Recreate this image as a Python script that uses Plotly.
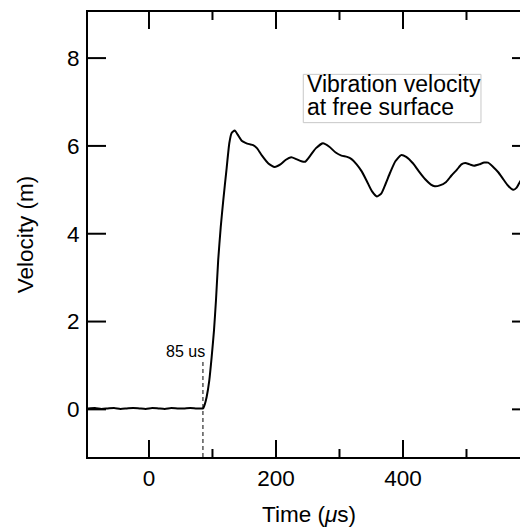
import plotly.graph_objects as go

time_us = [-96, -85, -75, -65, -55, -45, -35, -25, -15, -5, 5, 15, 25, 35, 45, 55, 65, 75, 82, 85,
           88, 90.8, 95, 98.7, 102.4, 105.5, 109, 113, 117, 122, 126.5, 130, 135, 140, 146, 152,
           158, 164, 170, 178, 188, 198, 207, 215, 224, 232, 240, 246, 254, 263, 274, 284, 294,
           303, 312, 319, 327, 335, 343, 351, 359, 366, 373, 380, 388, 397, 405, 416, 425, 435,
           444, 450, 458, 468, 476, 485, 492, 498, 505, 512, 520, 528, 534, 542, 550, 557, 564,
           570, 574, 579, 584, 590, 598]
velocity = [0.02, 0.03, 0.01, 0.02, 0.03, 0.01, 0.02, 0.03, 0.02, 0.01, 0.03, 0.02, 0.01, 0.03, 0.02, 0.02, 0.03, 0.02, 0.02, 0.02,
            0.12, 0.28, 0.66, 1.19, 1.80, 2.48, 3.40, 4.15, 4.76, 5.45, 6.06, 6.29, 6.35, 6.25, 6.12, 6.07,
            6.04, 6.02, 5.95, 5.78, 5.60, 5.52, 5.58, 5.68, 5.74, 5.70, 5.65, 5.64, 5.78, 5.95, 6.06, 5.98, 5.85,
            5.78, 5.75, 5.70, 5.58, 5.42, 5.20, 4.97, 4.85, 4.92, 5.15, 5.40, 5.65, 5.79, 5.75, 5.60, 5.42, 5.24,
            5.12, 5.08, 5.10, 5.18, 5.32, 5.46, 5.58, 5.61, 5.58, 5.55, 5.58, 5.62, 5.62, 5.52, 5.40, 5.26, 5.12,
            5.03, 5.00, 5.05, 5.18, 5.30, 5.45]

onset_time = [85]
onset_label = ["85 us"]
x_ticks = [0, 200, 400]
x_minor_ticks = [100, 300, 500]
y_ticks = [0, 2, 4, 6, 8]

FONT = "Liberation Sans, Arial, Helvetica, sans-serif"

X_RANGE = [-96, 600]
Y_RANGE = [-1.085, 9.05]
PLOT_W, PLOT_H = 442, 445          # plot-area size in pixels
x_per_px = (X_RANGE[1] - X_RANGE[0]) / PLOT_W
y_per_px = (Y_RANGE[1] - Y_RANGE[0]) / PLOT_H

fig = go.Figure()
fig.add_trace(go.Scatter(x=time_us, y=velocity, mode="lines",
                         line=dict(color="black", width=2, shape="spline", smoothing=0.5),
                         showlegend=False, hoverinfo="skip"))

# dashed marker at onset
fig.add_trace(go.Scatter(x=[onset_time[0], onset_time[0]], y=[Y_RANGE[0], 1.14], mode="lines",
                         line=dict(color="black", width=1, dash="4px,3px"), showlegend=False,
                         hoverinfo="skip"))

# inward tick marks built from the tick value lists
tx, ty = [], []
for v, ln in [(t, 17) for t in x_ticks] + [(t, 8) for t in x_minor_ticks]:
    tx += [v, v, None, v, v, None]
    ty += [Y_RANGE[0], Y_RANGE[0] + ln * y_per_px, None,
           Y_RANGE[1], Y_RANGE[1] - ln * y_per_px, None]
for v in y_ticks:
    tx += [X_RANGE[0], X_RANGE[0] + 18 * x_per_px, None,
           X_RANGE[1], X_RANGE[1] - 18 * x_per_px, None]
    ty += [v, v, None, v, v, None]
fig.add_trace(go.Scatter(x=tx, y=ty, mode="lines", line=dict(color="black", width=2),
                         showlegend=False, hoverinfo="skip", connectgaps=False))

fig.add_annotation(x=onset_time[0] + 6, y=1.31, xref="x", yref="y", text=onset_label[0],
                   showarrow=False, xanchor="right", yanchor="middle",
                   font=dict(family=FONT, size=16, color="black"))

# label box
fig.add_shape(type="rect", xref="x", yref="y", x0=243, x1=522.8, y0=6.53, y1=7.63,
              line=dict(color="#c8c8c8", width=1), fillcolor="rgba(0,0,0,0)")
fig.add_annotation(x=245, y=7.42, xref="x", yref="y", text="Vibration velocity",
                   showarrow=False, xanchor="left", yanchor="middle",
                   font=dict(family=FONT, size=23, color="black"))
fig.add_annotation(x=245, y=6.88, xref="x", yref="y", text="at free surface",
                   showarrow=False, xanchor="left", yanchor="middle",
                   font=dict(family=FONT, size=23, color="black"))

fig.update_layout(
    width=540, height=527,
    margin=dict(l=88, r=10, t=12, b=70),
    paper_bgcolor="white", plot_bgcolor="white",
    font=dict(family=FONT, color="black"),
    xaxis=dict(range=X_RANGE, showline=True, linecolor="black", linewidth=2,
               mirror=True, ticks="",
               tickmode="array", tickvals=x_ticks, ticktext=[str(v) for v in x_ticks],
               showgrid=False, zeroline=False, automargin=False,
               tickfont=dict(family=FONT, size=22.5, color="black"),
               ticklabelstandoff=0,
               title=dict(text="Time (<i>μ</i>s)", font=dict(family=FONT, size=22.5, color="black"),
                          standoff=25)),
    yaxis=dict(range=Y_RANGE, showline=True, linecolor="black", linewidth=2,
               mirror=True, ticks="",
               tickmode="array", tickvals=y_ticks, ticktext=[str(v) for v in y_ticks],
               showgrid=False, zeroline=False, automargin=False,
               tickfont=dict(family=FONT, size=22.5, color="black"),
               ticklabelstandoff=2,
               title=dict(text="Velocity (m)", font=dict(family=FONT, size=22.5, color="black"),
                          standoff=27)),
)

fig.write_html("out.html", config={"displayModeBar": False},
               post_script="document.body.style.margin='0';document.body.style.overflow='hidden';")
